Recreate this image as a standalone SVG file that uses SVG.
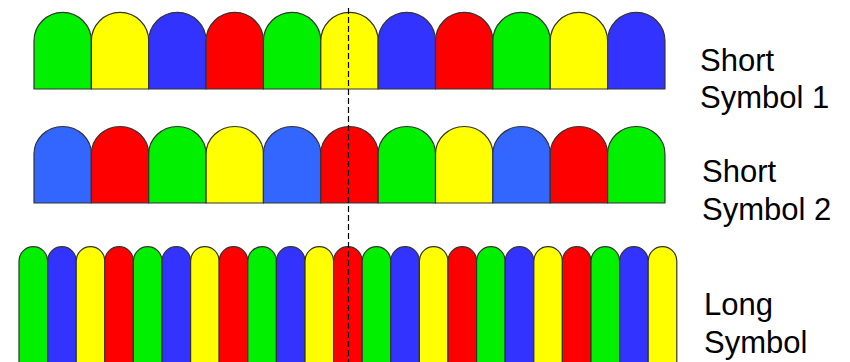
<svg xmlns="http://www.w3.org/2000/svg" xmlns:xlink="http://www.w3.org/1999/xlink" width="850" height="362" viewBox="0 0 850 362">
<style>
.arch{stroke:#333333;stroke-width:1.2;stroke-linejoin:round}
.g{fill:#00F000}.y{fill:#FFFF00}.b{fill:#3333FF}.b2{fill:#3366FF}.r{fill:#FF0000}
.lbl{font-family:"Liberation Sans",Arial,sans-serif;font-size:31px;fill:#000}
.cut{stroke:#000;stroke-width:1.2;stroke-dasharray:6 3;fill:none}
</style>
<defs>
<path id="a1" class="arch" d="M0,89 V41 A28.68,28.7 0 0 1 57.36,41 V89 Z"/>
<path id="a2" class="arch" d="M0,203 V154 A28.68,27.5 0 0 1 57.36,154 V203 Z"/>
<path id="a3" class="arch" d="M0,372 V261 A14.3,14.3 0 0 1 28.6,261 V372 Z"/>
</defs>
<rect width="850" height="362" fill="#FFFFFF"/>
<g id="short-symbol-1">
<use href="#a1" x="34" class="g"/>
<use href="#a1" x="91.36" class="y"/>
<use href="#a1" x="148.72" class="b"/>
<use href="#a1" x="206.08" class="r"/>
<use href="#a1" x="263.44" class="g"/>
<use href="#a1" x="320.8" class="y"/>
<use href="#a1" x="378.16" class="b"/>
<use href="#a1" x="435.52" class="r"/>
<use href="#a1" x="492.88" class="g"/>
<use href="#a1" x="550.24" class="y"/>
<use href="#a1" x="607.6" class="b"/>
</g>
<g id="short-symbol-2">
<use href="#a2" x="34" class="b2"/>
<use href="#a2" x="91.36" class="r"/>
<use href="#a2" x="148.72" class="g"/>
<use href="#a2" x="206.08" class="y"/>
<use href="#a2" x="263.44" class="b2"/>
<use href="#a2" x="320.8" class="r"/>
<use href="#a2" x="378.16" class="g"/>
<use href="#a2" x="435.52" class="y"/>
<use href="#a2" x="492.88" class="b2"/>
<use href="#a2" x="550.24" class="r"/>
<use href="#a2" x="607.6" class="g"/>
</g>
<g id="long-symbol">
<use href="#a3" x="19" class="g"/>
<use href="#a3" x="47.6" class="b"/>
<use href="#a3" x="76.2" class="y"/>
<use href="#a3" x="104.8" class="r"/>
<use href="#a3" x="133.4" class="g"/>
<use href="#a3" x="162" class="b"/>
<use href="#a3" x="190.6" class="y"/>
<use href="#a3" x="219.2" class="r"/>
<use href="#a3" x="247.8" class="g"/>
<use href="#a3" x="276.4" class="b"/>
<use href="#a3" x="305" class="y"/>
<use href="#a3" x="333.6" class="r"/>
<use href="#a3" x="362.2" class="g"/>
<use href="#a3" x="390.8" class="b"/>
<use href="#a3" x="419.4" class="y"/>
<use href="#a3" x="448" class="r"/>
<use href="#a3" x="476.6" class="g"/>
<use href="#a3" x="505.2" class="b"/>
<use href="#a3" x="533.8" class="y"/>
<use href="#a3" x="562.4" class="r"/>
<use href="#a3" x="591" class="g"/>
<use href="#a3" x="619.6" class="b"/>
<use href="#a3" x="648.2" class="y"/>
</g>
<g id="connectors">
<line class="cut" x1="348.5" y1="8" x2="348.5" y2="362"/>
</g>
<g id="label-1">
<text class="lbl" x="700" y="71">Short</text>
<text class="lbl" x="700" y="108">Symbol 1</text>
</g>
<g id="label-2">
<text class="lbl" x="702" y="182">Short</text>
<text class="lbl" x="702" y="220">Symbol 2</text>
</g>
<g id="label-3">
<text class="lbl" x="704" y="315">Long</text>
<text class="lbl" x="704" y="353">Symbol</text>
</g>
</svg>
